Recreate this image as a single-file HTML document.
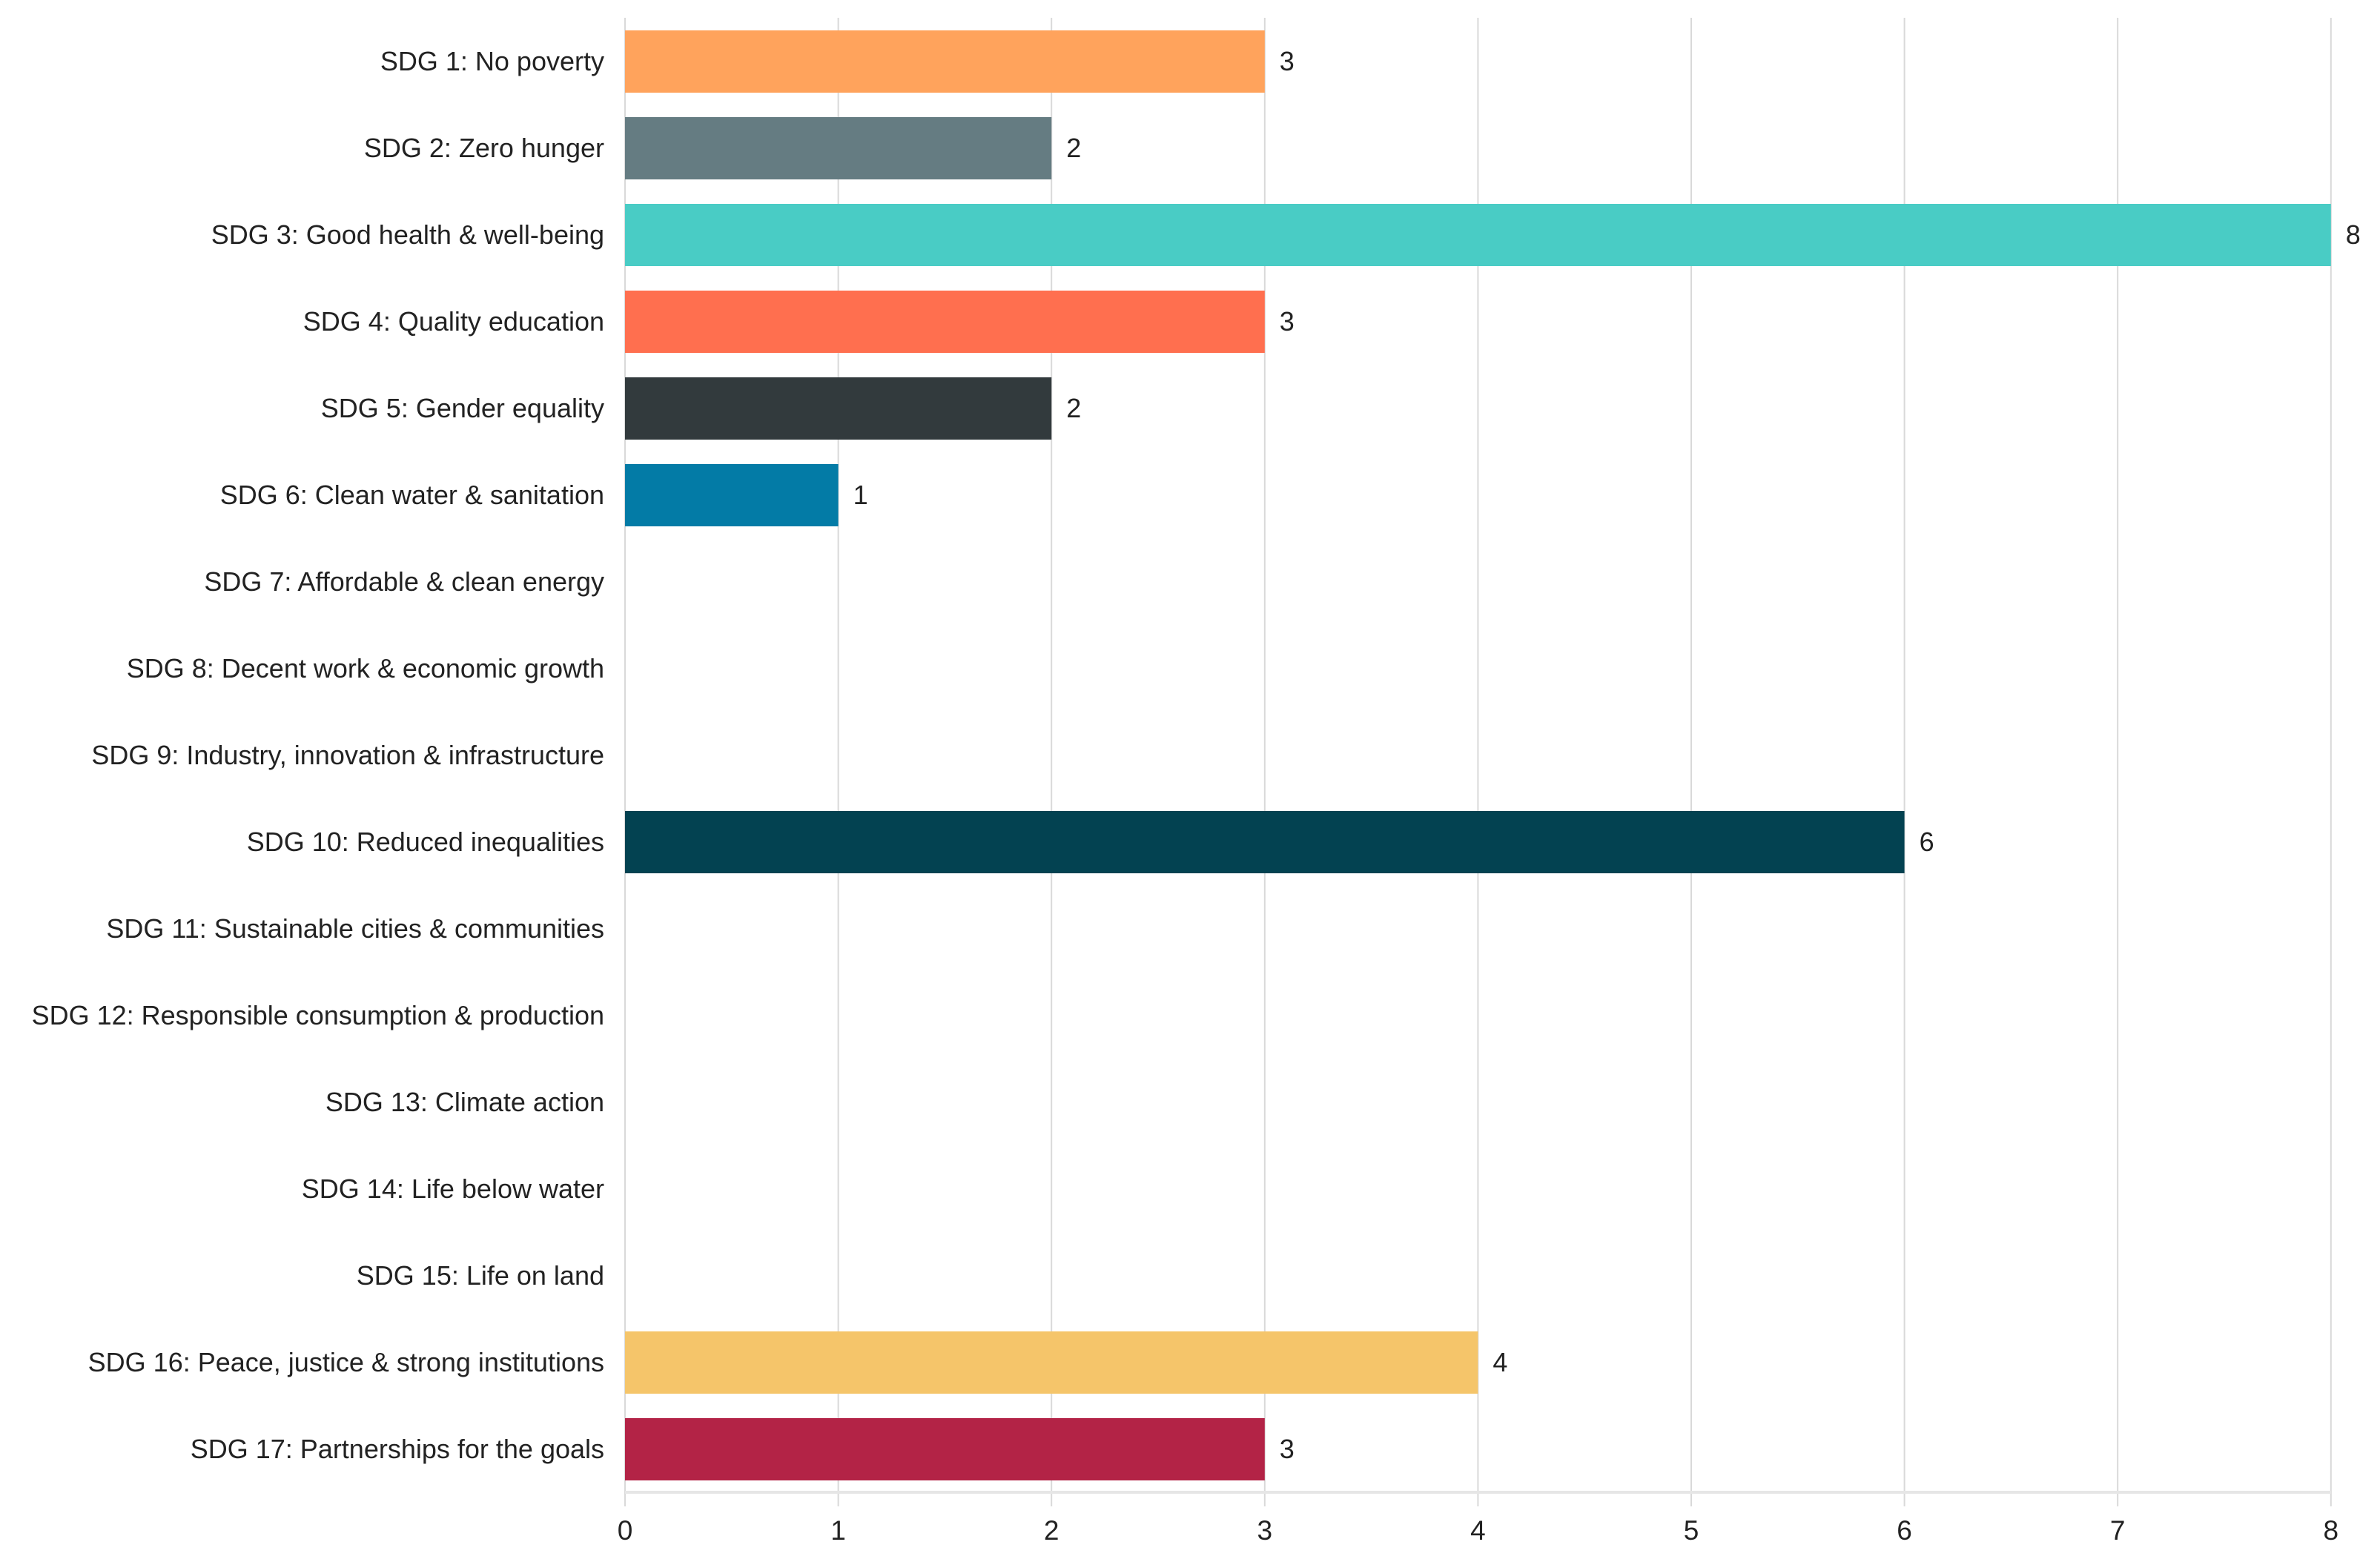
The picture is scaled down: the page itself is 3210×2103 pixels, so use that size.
<!DOCTYPE html>
<html><head><meta charset="utf-8"><style>
html,body{margin:0;padding:0;background:#fff;}
svg{display:block;font-family:"Liberation Sans Narrow","Liberation Sans",sans-serif;}
</style></head><body>
<svg id="chart" width="3210" height="2103" viewBox="0 0 3210 2103" xmlns="http://www.w3.org/2000/svg"></svg>
<script>
const categories = ["SDG 1: No poverty","SDG 2: Zero hunger","SDG 3: Good health & well-being","SDG 4: Quality education","SDG 5: Gender equality","SDG 6: Clean water & sanitation","SDG 7: Affordable & clean energy","SDG 8: Decent work & economic growth","SDG 9: Industry, innovation & infrastructure","SDG 10: Reduced inequalities","SDG 11: Sustainable cities & communities","SDG 12: Responsible consumption & production","SDG 13: Climate action","SDG 14: Life below water","SDG 15: Life on land","SDG 16: Peace, justice & strong institutions","SDG 17: Partnerships for the goals"];
const values = [3,2,8,3,2,1,0,0,0,6,0,0,0,0,0,4,3];
const barColors = ["#FFA35C","#657C82","#49CCC5","#FF6F4F","#323A3D","#037BA6","#999","#999","#999","#034251","#999","#999","#999","#999","#999","#F5C56A","#B32346"];
const xTicks = [0,1,2,3,4,5,6,7,8];

const svg = document.getElementById('chart');
const NS = "http://www.w3.org/2000/svg";
const x0 = 843, unit = 287.6;
const xS = v => x0 + v * unit;
const rowTop = 41, pitch = 117, barH = 84;
const yS = i => rowTop + i * pitch;
function mk(tag, attrs){const e=document.createElementNS(NS,tag);for(const k in attrs)e.setAttribute(k,attrs[k]);svg.appendChild(e);return e;}

xTicks.forEach(t=>{
  const g = mk('line',{x1:xS(t),x2:xS(t),y1:24,y2:2032,stroke:'#d9d9d9','stroke-width':2});
  
  
  const tl = mk('text',{x:xS(t),y:2077,'font-size':37,fill:'#222','text-anchor':'middle'});
  tl.textContent = t;
  
  
});
const base = mk('line',{x1:x0,x2:xS(8),y1:2013,y2:2013,stroke:'#e6e6e6','stroke-width':4});



categories.forEach((c,i)=>{
  const cy = yS(i) + barH/2;
  const lab = mk('text',{x:815,y:cy+12,'font-size':36,fill:'#222','text-anchor':'end'});
  lab.textContent = c;
  
  
  const v = values[i];
  if (v > 0) {
    const r = mk('rect',{x:x0,y:yS(i),width:xS(v)-x0,height:barH,fill:barColors[i]});
    
    
    const vl = mk('text',{x:xS(v)+20,y:cy+12,'font-size':36,fill:'#222'});
    vl.textContent = v;
    
    
  }
});
</script>
</body></html>
